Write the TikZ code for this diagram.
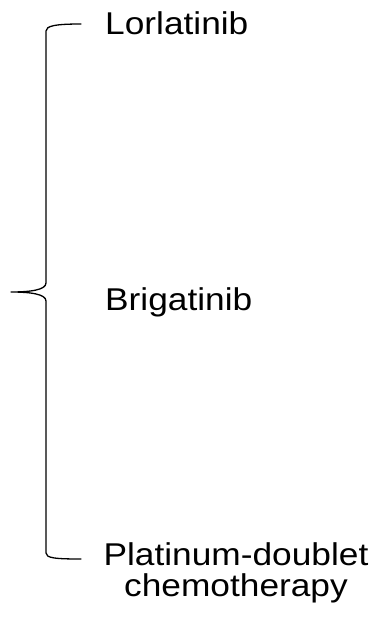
\documentclass[tikz,border=0pt]{standalone}
\usepackage{fontspec}
\setmainfont{Liberation Sans}[FakeStretch=1.12]
\begin{document}
\begin{tikzpicture}[x=1pt,y=-1pt,
  label/.style={inner sep=0pt, font=\fontsize{31.5}{31}\selectfont},
  brace/.style={line width=1.3pt, line cap=round}]
\useasboundingbox (0,0) rectangle (385,617);
% brace ends and tip
\coordinate (top) at (81,24);
\coordinate (tip) at (11,292);
\coordinate (bot) at (81,559);
\draw[brace] (top) .. controls (55,24) and (46,26) .. (46,31)
  -- (46,283) .. controls (46,290) and (30,292) .. (tip)
  (tip) .. controls (30,292) and (46,294) .. (46,301)
  -- (46,553) .. controls (46,558) and (55,559) .. (bot);
% treatment labels
\node[label, anchor=base west] (lor) at (105,34.5) {Lorlatinib};
\node[label, anchor=base west] (bri) at (105,310) {Brigatinib};
\node[label, anchor=base, align=center] (pla) at (236,596) {Platinum-doublet\\chemotherapy};
\end{tikzpicture}
\end{document}
